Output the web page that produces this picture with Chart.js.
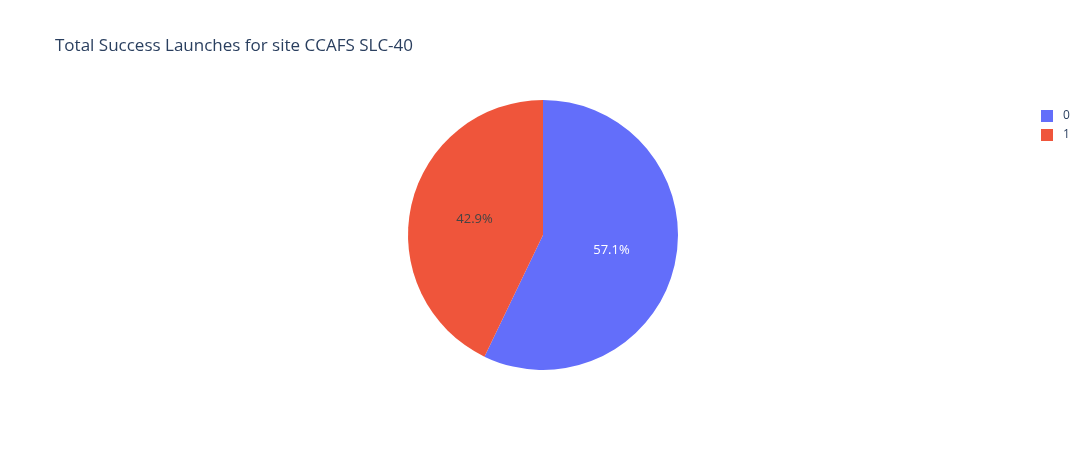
<!DOCTYPE html>
<html><head><meta charset="utf-8">
<script src="https://cdn.jsdelivr.net/npm/chart.js@4"></script>
<style>
body{margin:0;background:#fff;font-family:"Open Sans",sans-serif;}
#wrap{position:relative;width:1091px;height:450px;}
#title{position:absolute;left:55px;top:33px;font-size:17px;color:#2a3f5f;}
.leg{position:absolute;left:1041px;font-size:12px;color:#2a3f5f;}
.sw{display:inline-block;width:12px;height:12px;vertical-align:middle;margin-right:10px;}
canvas{position:absolute;left:0;top:0;}
</style></head><body>
<div id="wrap">
<canvas id="c" width="1091" height="450"></canvas>
<div id="title">Total Success Launches for site CCAFS SLC-40</div>
<div id="legend"></div>
</div>
<script>
const categories = ["0", "1"];
const values = [4, 3];
const colors = ["#636efa", "#ef553b"];
const textColors = ["#ffffff", "#444444"];

const lg = document.getElementById('legend');
categories.forEach((c,i)=>{
  const d=document.createElement('div');d.className='leg';d.style.top=(106+i*19)+'px';
  d.innerHTML='<span class="sw" style="background:'+colors[i]+'"></span>'+c;lg.appendChild(d);
});

const pctPlugin={id:'pct',afterDatasetsDraw(chart){
  const ctx=chart.ctx;const meta=chart.getDatasetMeta(0);
  const total=values.reduce((a,b)=>a+b,0);
  meta.data.forEach((arc,i)=>{
    const mid=(arc.startAngle+arc.endAngle)/2;const r=arc.outerRadius*0.52;
    const x=arc.x+Math.cos(mid)*r,y=arc.y+Math.sin(mid)*r;
    ctx.save();ctx.fillStyle=textColors[i];ctx.font='13px "Open Sans",sans-serif';
    ctx.textAlign='center';ctx.textBaseline='middle';
    ctx.fillText((values[i]/total*100).toFixed(1)+'%',x,y);ctx.restore();
  });
}};

new Chart(document.getElementById('c'),{
  type:'pie',
  data:{labels:categories,datasets:[{data:values,backgroundColor:colors,borderColor:'#ffffff',borderWidth:0}]},
  options:{responsive:false,animation:false,
    layout:{padding:{top:100,bottom:80,left:0,right:5}},
    plugins:{legend:{display:false},tooltip:{enabled:false}}},
  plugins:[pctPlugin]
});
</script>
</body></html>
